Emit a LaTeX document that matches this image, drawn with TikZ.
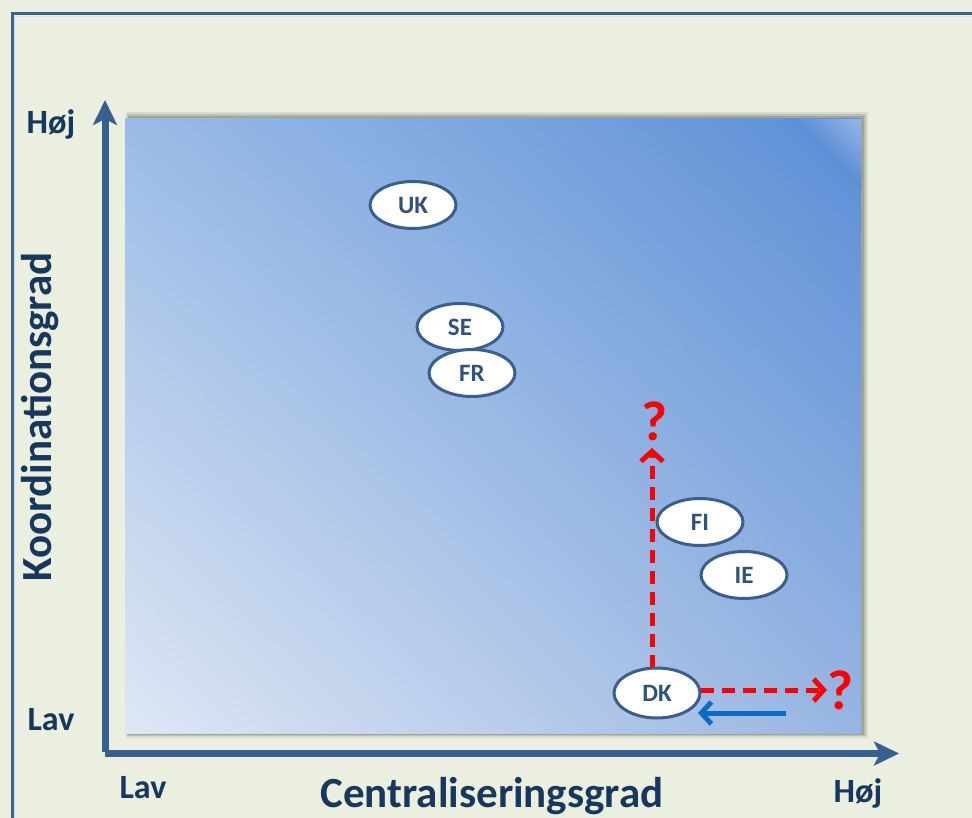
\documentclass[tikz,border=0pt]{standalone}
\usepackage{fontspec}
\setmainfont{Carlito}
\usetikzlibrary{arrows.meta,shapes.geometric,shadings}
\definecolor{bgc}{HTML}{EBEFDF}
\definecolor{framec}{HTML}{3D6392}
\definecolor{axisc}{HTML}{385F92}
\definecolor{labc}{HTML}{17375E}
\definecolor{ellc}{HTML}{3A5F8A}
\definecolor{elltxt}{HTML}{2F527F}
\definecolor{redc}{HTML}{FF0000}
\definecolor{bluec}{HTML}{0A6CC2}
\definecolor{gLL}{HTML}{DFE7F4}
\definecolor{gUL}{HTML}{9BBBE6}
\definecolor{gUR}{HTML}{5A8ED6}
\definecolor{gLR}{HTML}{97B5E2}
\definecolor{gHi}{HTML}{A6C1EC}
\tikzset{
  country/.style={ellipse, draw=ellc, line width=3pt, fill=white, minimum width=86pt, minimum height=47pt, inner sep=0pt, font=\fontsize{25}{25}\selectfont\bfseries, text=elltxt},
  axisline/.style={draw=axisc, line width=7pt, -{Stealth[width=24pt,length=25pt,inset=6pt]}},
  axlab/.style={font=\fontsize{34}{34}\selectfont\bfseries, text=labc},
  bigtitle/.style={font=\fontsize{43}{43}\selectfont\bfseries, text=labc},
  reddash/.style={draw=redc, line width=5pt, dash pattern=on 13pt off 8pt, -{Straight Barb[length=10pt,width=22pt,line width=5pt]}},
  bluearrow/.style={draw=bluec, line width=5pt, -{Straight Barb[length=10pt,width=22pt,line width=5pt]}},
  qmark/.style={font=\fontsize{56}{56}\selectfont\bfseries, text=redc},
}
\begin{document}
\begin{tikzpicture}[x=1pt,y=-1pt]
\useasboundingbox (0,0) rectangle (972,818);
% outer frame
\fill[bgc] (0,0) rectangle (972,818);
\draw[framec, line width=3pt] (12,850) -- (12,14) -- (1000,14);
\draw[white!80!framec, line width=1pt] (14.5,850) -- (14.5,16.5) -- (1000,16.5);
% plot area shadow
\fill[black, opacity=0.08] (126,112) rectangle (868,738);
\fill[black, opacity=0.12] (127,114) rectangle (866,736);
\fill[black, opacity=0.15] (128,116) rectangle (864,735);
% plot area gradient
\shade[lower left=gLL, upper left=gUL, upper right=gUR, lower right=gLR]
  (125,733) rectangle (861,119);
% soft highlight in the top right corner
\foreach \k in {0,...,19}{
  \pgfmathsetmacro{\La}{70-3.5*\k}
  \pgfmathsetmacro{\Lb}{70-3.5*(\k+1)}
  \pgfmathsetmacro{\pc}{5*\k}
  \fill[gHi!\pc!gUR, opacity=0.85] (861-\La,119) -- (861-\Lb,119) -- (861,119+\Lb) -- (861,119+\La) -- cycle;
}
% axes
\draw[axisline] (105,752) -- (105,100);
\draw[axisline] (105,753.5) -- (899,753.5);
% axis labels
\node[axlab] (yhigh) at (51,124) {Høj};
\node[axlab] (ylow) at (51,720) {Lav};
\node[axlab] (xlow) at (143,788) {Lav};
\node[axlab] (xhigh) at (858,793) {Høj};
\node[bigtitle] (xtitle) at (492,796) {Centraliseringsgrad};
\node[bigtitle, rotate=90] (ytitle) at (40,417) {Koordinationsgrad};
% countries
\node[country] (UK) at (413,205) {UK};
\node[country] (SE) at (460,327) {SE};
\node[country] (FR) at (472,373) {FR};
\node[country] (FI) at (700,522) {FI};
\node[country] (IE) at (744,575) {IE};
% arrows
\coordinate (vstart) at (652,668);
\coordinate (vtip) at (652,448);
\coordinate (hstart) at (701,690);
\coordinate (htip) at (827,690);
\draw[reddash] (vstart) -- (vtip);
\node[qmark] (q1) at (654,421) {?};
\node[country, minimum height=50pt] (DK) at (657,693) {DK};
\draw[reddash] (hstart) -- (htip);
\node[qmark] (q2) at (840,690) {?};
\coordinate (bstart) at (786,713);
\coordinate (bend) at (698,713);
\draw[bluearrow] (bstart) -- (bend);
\end{tikzpicture}
\end{document}
